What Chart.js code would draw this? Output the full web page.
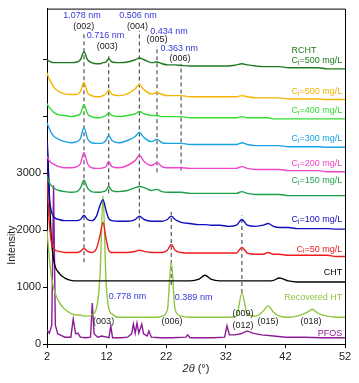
<!DOCTYPE html>
<html><head><meta charset="utf-8">
<script src="https://cdn.jsdelivr.net/npm/chart.js@4.4.1/dist/chart.umd.min.js"></script>
<style>html,body{margin:0;padding:0;background:#fff;}</style>
</head><body>
<canvas id="c" width="359" height="383" style="display:block;width:359px;height:383px"></canvas>
<script>
// ---------- data (2θ in degrees, intensity in counts) ----------
const twoTheta = [2, 2.3, 2.7, 3.2, 4, 5, 6, 7, 7.6, 8.2, 8.8, 9.5, 10.3, 10.9, 11.4, 11.9, 12.35, 12.9, 14, 15.5, 16.8, 17.5, 18.3, 19.5, 20.45, 21.3, 22.2, 22.85, 23.5, 24.5, 26, 27.5, 28.5, 29.5, 31, 32.5, 33.8, 34.7, 35.6, 37, 38.3, 39.1, 40, 41, 42.5, 44, 45.7, 46.5, 47.5, 49, 50.5, 52];

const rcht500 = [5000,4980,4960,4950, 4950,4950,4950,4960, 5000,5140,5000,4950, 4930,4930,4950,4960, 5020,4960,4950,4960, 5000,5030,5000,4950, 4960,4930,4910,4910, 4910,4900,4890,4890, 4890,4890,4890,4890, 4910,4930,4910,4890, 4880,4880,4880,4880, 4860,4860,4860,4860, 4860,4840,4840,4840];
const c500 = [4770,4680,4600,4510, 4440,4400,4390,4390, 4440,4600,4420,4370, 4350,4350,4370,4400, 4470,4390,4370,4400, 4490,4560,4470,4400, 4420,4390,4370,4370, 4370,4370,4350,4350, 4350,4350,4350,4350, 4350,4370,4350,4330, 4330,4330,4330,4330, 4310,4310,4310,4310, 4310,4300,4300,4300];
const c400 = [4230,4170,4120,4070, 4030,4020,4000,4020, 4050,4210,4050,4000, 3980,3980,4000,4020, 4070,4020,4000,4020, 4050,4090,4050,4020, 4020,4000,4000,4000, 4000,4000,3980,3980, 3980,3980,3980,3980, 3980,4000,3980,3980, 3980,3980,3960,3960, 3960,3960,3960,3960, 3960,3960,3960,3960];
const c300 = [3890,3810,3720,3650, 3600,3560,3540,3560, 3610,3810,3610,3540, 3530,3530,3540,3580, 3670,3580,3540,3580, 3650,3720,3630,3560, 3600,3540,3530,3530, 3530,3530,3510,3510, 3510,3510,3510,3510, 3510,3540,3510,3490, 3490,3490,3490,3490, 3470,3470,3470,3470, 3470,3460,3460,3460];
const c200 = [3300,3240,3190,3160, 3120,3100,3100,3120, 3170,3370,3170,3100, 3090,3090,3100,3120, 3210,3120,3100,3140, 3230,3320,3210,3140, 3190,3120,3100,3100, 3100,3100,3090,3090, 3090,3090,3090,3090, 3090,3120,3090,3070, 3070,3070,3070,3070, 3050,3050,3050,3050, 3050,3030,3030,3030];
const c150 = [2950,2860,2790,2740, 2700,2680,2670,2680, 2740,2880,2740,2680, 2670,2670,2680,2700, 2770,2700,2680,2700, 2750,2770,2750,2700, 2720,2680,2670,2670, 2670,2670,2650,2650, 2650,2650,2650,2650, 2650,2680,2650,2630, 2630,2630,2630,2630, 2610,2610,2610,2610, 2610,2610,2610,2610];
const c100 = [3580,2700,2350,2230, 2190,2170,2170,2170, 2190,2260,2190,2170, 2250,2440,2540,2350, 2210,2170,2160,2160, 2190,2250,2190,2160, 2160,2160,2190,2250, 2190,2140,2120,2100, 2100,2090,2090,2070, 2090,2190,2090,2070, 2090,2120,2070,2050, 2050,2030,2030,2030, 2030,2030,2020,2020];
const c50 = [3050,2260,1820,1670, 1630,1610,1610,1610, 1630,1680,1630,1610, 1680,1910,2140,1860, 1650,1610,1610,1610, 1630,1650,1630,1610, 1610,1610,1650,1750, 1650,1610,1600,1600, 1600,1600,1600,1600, 1600,1700,1600,1580, 1580,1610,1580,1580, 1560,1560,1560,1560, 1560,1560,1540,1540];
const cht = [3700,2900,1910,1440, 1250,1160,1120,1110, 1110,1110,1110,1110, 1110,1110,1110,1110, 1110,1110,1110,1110, 1110,1110,1110,1110, 1110,1110,1110,1110, 1110,1110,1110,1140, 1210,1140,1110,1110, 1110,1110,1110,1110, 1110,1110,1120,1160, 1110,1090,1090,1090, 1090,1090,1090,1090];
const recoveredHT = [2000,1610,1210,950, 740,610,540,510, 510,490,490,510, 630,1210,2610,1120, 630,530,470,470, 470,470,470,470, 470,490,600,1440, 600,490,470,470, 470,470,470,470, 490,895,530,490, 580,670,560,490, 470,490,560,610, 540,490,470,470];

const pfosX = [2.0, 2.4, 2.8, 3.1, 3.4, 3.8, 5.0, 6.0, 6.4, 6.8, 7.2, 7.6, 8.5, 9.3, 9.6, 9.9, 10.5, 11.2, 12.4, 12.7, 13.0, 14.5, 15.5, 16.2, 16.5, 16.8, 17.1, 17.4, 17.9, 18.2, 18.8, 19.1, 19.5, 21, 23, 25.3, 25.6, 26, 28, 30, 31.8, 32.2, 32.6, 33.5, 34.5, 35.6, 36.5, 38, 40, 42, 45, 48, 52];
const pfosY = [250, 190, 330, 2790, 330, 180, 120, 120, 440, 180, 190, 120, 110, 120, 720, 180, 120, 140, 110, 320, 110, 110, 120, 180, 350, 190, 370, 190, 350, 180, 140, 230, 120, 110, 110, 120, 160, 110, 110, 110, 120, 320, 160, 160, 180, 230, 190, 160, 140, 120, 120, 110, 110];

// reference (dashed) lines at the indexed reflections
const dashX      = [8.2, 12.35, 17.5, 20.45, 24.5, 22.85, 34.7];
const dashTop    = [5490, 5070, 5510, 5240, 4930, 2320, 2260];
const dashBottom = [1440, 2650, 2050, 3020, 3050, 1040, 895];

const xTicks = [2, 12, 22, 32, 42, 52];
const yTicks = [0, 1000, 2000, 3000, 4000, 5000];
const yTickLabels = ['0', '1000', '2000', '3000', '', ''];

const ciValues = ['500', '500', '400', '300', '200', '150', '100', '50'];
const ciLabelY = [4980, 4440, 4100, 3610, 3170, 2870, 2190, 1670];

// ---------- styling ----------
const FONT = "'Liberation Sans', Arial, sans-serif";
const seriesColors = ['#1e7a1e', '#f5b400', '#33dd33', '#1aa2e2', '#ee44cc', '#1f9e4a', '#1010c0', '#ee1c1c', '#000000', '#8dc63f', '#8b1a95'];
const NM = '#3636d8', HKL = '#222222';

const seriesList = [rcht500, c500, c400, c300, c200, c150, c100, c50, cht, recoveredHT];
const datasets = [];
seriesList.forEach((arr, k) => {
  datasets.push({
    data: twoTheta.map((x, i) => ({x: x, y: arr[i]})),
    borderColor: seriesColors[k], borderWidth: 1.4, pointRadius: 0,
    cubicInterpolationMode: 'monotone', fill: false, order: 10 + k
  });
});
datasets.push({
  data: pfosX.map((x, i) => ({x: x, y: pfosY[i]})),
  borderColor: seriesColors[10], borderWidth: 1.4, pointRadius: 0, tension: 0, fill: false, order: 25
});
dashX.forEach((x, i) => {
  datasets.push({
    data: [{x: x, y: dashBottom[i]}, {x: x, y: dashTop[i]}],
    borderColor: '#555555', borderWidth: 1.2, borderDash: [4, 3], pointRadius: 0, fill: false, order: 40
  });
});

const annotations = [
  {t:'1.078 nm', x:7.87, y:5770, c:NM},
  {t:'(002)', x:8.15, y:5580, c:HKL},
  {t:'0.716 nm', x:11.82, y:5420, c:NM},
  {t:'(003)', x:12.1, y:5230, c:HKL},
  {t:'0.506 nm', x:17.27, y:5770, c:NM},
  {t:'(004)', x:17.2, y:5580, c:HKL},
  {t:'0.434 nm', x:22.47, y:5490, c:NM},
  {t:'(005)', x:20.45, y:5350, c:HKL},
  {t:'0.363 nm', x:24.2, y:5190, c:NM},
  {t:'(006)', x:24.3, y:5020, c:HKL},
  {t:'0.778 nm', x:15.5, y:840, c:NM},
  {t:'(003)', x:11.5, y:400, c:HKL},
  {t:'(006)', x:22.97, y:400, c:HKL},
  {t:'0.389 nm', x:26.6, y:820, c:NM},
  {t:'(009)', x:34.9, y:530, c:HKL},
  {t:'(012)', x:34.9, y:330, c:HKL},
  {t:'(015)', x:39.1, y:400, c:HKL},
  {t:'(018)', x:46.3, y:400, c:HKL}
];

const textPlugin = {
  id: 'texts',
  afterDraw(chart) {
    const ctx = chart.ctx, xs = chart.scales.x, ys = chart.scales.y, a = chart.chartArea;
    ctx.save();
    // frame (top and right sides)
    ctx.strokeStyle = '#000'; ctx.lineWidth = 1;
    ctx.beginPath();
    ctx.moveTo(a.left, a.top + 0.5); ctx.lineTo(a.right + 0.5, a.top + 0.5); ctx.lineTo(a.right + 0.5, a.bottom);
    ctx.stroke();

    ctx.textBaseline = 'middle';
    ctx.font = '9px ' + FONT;
    ctx.textAlign = 'center';
    annotations.forEach(o => {
      ctx.fillStyle = o.c;
      ctx.fillText(o.t, xs.getPixelForValue(o.x), ys.getPixelForValue(o.y));
    });

    // C_i labels, right aligned
    const rightX = xs.getPixelForValue(51.55);
    let firstStart = 0;
    ciValues.forEach((v, k) => {
      const y = ys.getPixelForValue(ciLabelY[k]);
      ctx.font = '9px ' + FONT;
      const wC = ctx.measureText('C').width;
      const rest = '=' + v + ' mg/L';
      const wR = ctx.measureText(rest).width;
      ctx.font = '6.5px ' + FONT;
      const wi = ctx.measureText('i').width;
      const start = rightX - (wC + wi + wR);
      if (k === 0) firstStart = start;
      ctx.fillStyle = seriesColors[k];
      ctx.textAlign = 'left';
      ctx.font = '9px ' + FONT;
      ctx.fillText('C', start, y);
      ctx.font = '6.5px ' + FONT;
      ctx.fillText('i', start + wC, y + 2.5);
      ctx.font = '9px ' + FONT;
      ctx.fillText(rest, start + wC + wi, y);
    });
    ctx.font = '9px ' + FONT;
    ctx.textAlign = 'left';
    ctx.fillStyle = seriesColors[0];
    ctx.fillText('RCHT', firstStart, ys.getPixelForValue(5170));
    ctx.textAlign = 'right';
    ctx.fillStyle = seriesColors[8];
    ctx.fillText('CHT', rightX, ys.getPixelForValue(1250));
    ctx.fillStyle = seriesColors[9];
    ctx.fillText('Recovered HT', rightX, ys.getPixelForValue(810));
    ctx.fillStyle = seriesColors[10];
    ctx.fillText('PFOS', rightX, ys.getPixelForValue(180));

    // axis titles
    ctx.fillStyle = '#222';
    const cx = (a.left + a.right) / 2;
    ctx.font = 'italic 11px ' + FONT;
    const w1 = ctx.measureText('2θ').width;
    ctx.font = '11px ' + FONT;
    const w2 = ctx.measureText(' (°)').width;
    const sx = cx - (w1 + w2) / 2;
    ctx.textAlign = 'left';
    ctx.font = 'italic 11px ' + FONT;
    ctx.fillText('2θ', sx, 369);
    ctx.font = '11px ' + FONT;
    ctx.fillText(' (°)', sx + w1, 369);

    ctx.translate(12, ys.getPixelForValue(1740));
    ctx.rotate(-Math.PI / 2);
    ctx.textAlign = 'center';
    ctx.font = '10.5px ' + FONT;
    ctx.fillText('Intensity', 0, 0);
    ctx.restore();
  }
};

new Chart(document.getElementById('c'), {
  type: 'line',
  data: { datasets: datasets },
  options: {
    responsive: false, animation: false, devicePixelRatio: 1,
    layout: { padding: { top: 7, right: 14, left: 0, bottom: 0 } },
    plugins: { legend: { display: false }, tooltip: { enabled: false } },
    scales: {
      x: {
        type: 'linear', min: 2, max: 52,
        afterBuildTicks: s => { s.ticks = xTicks.map(v => ({value: v})); },
        afterFit: s => { s.height = 39; },
        ticks: { font: { family: FONT, size: 11 }, color: '#222', padding: 2, maxRotation: 0, autoSkip: false },
        grid: { drawOnChartArea: false, drawTicks: true, tickLength: 4, color: '#000' },
        border: { color: '#000', width: 1 }
      },
      y: {
        type: 'linear', min: 0, max: 5900,
        afterBuildTicks: s => { s.ticks = yTicks.map(v => ({value: v})); },
        afterFit: s => { s.width = 47; },
        ticks: { font: { family: FONT, size: 11 }, color: '#222', padding: 2,
                 callback: v => yTickLabels[yTicks.indexOf(v)] },
        grid: { drawOnChartArea: false, drawTicks: true, tickLength: 4, color: '#000' },
        border: { color: '#000', width: 1 }
      }
    }
  },
  plugins: [textPlugin]
});
</script>
</body></html>
